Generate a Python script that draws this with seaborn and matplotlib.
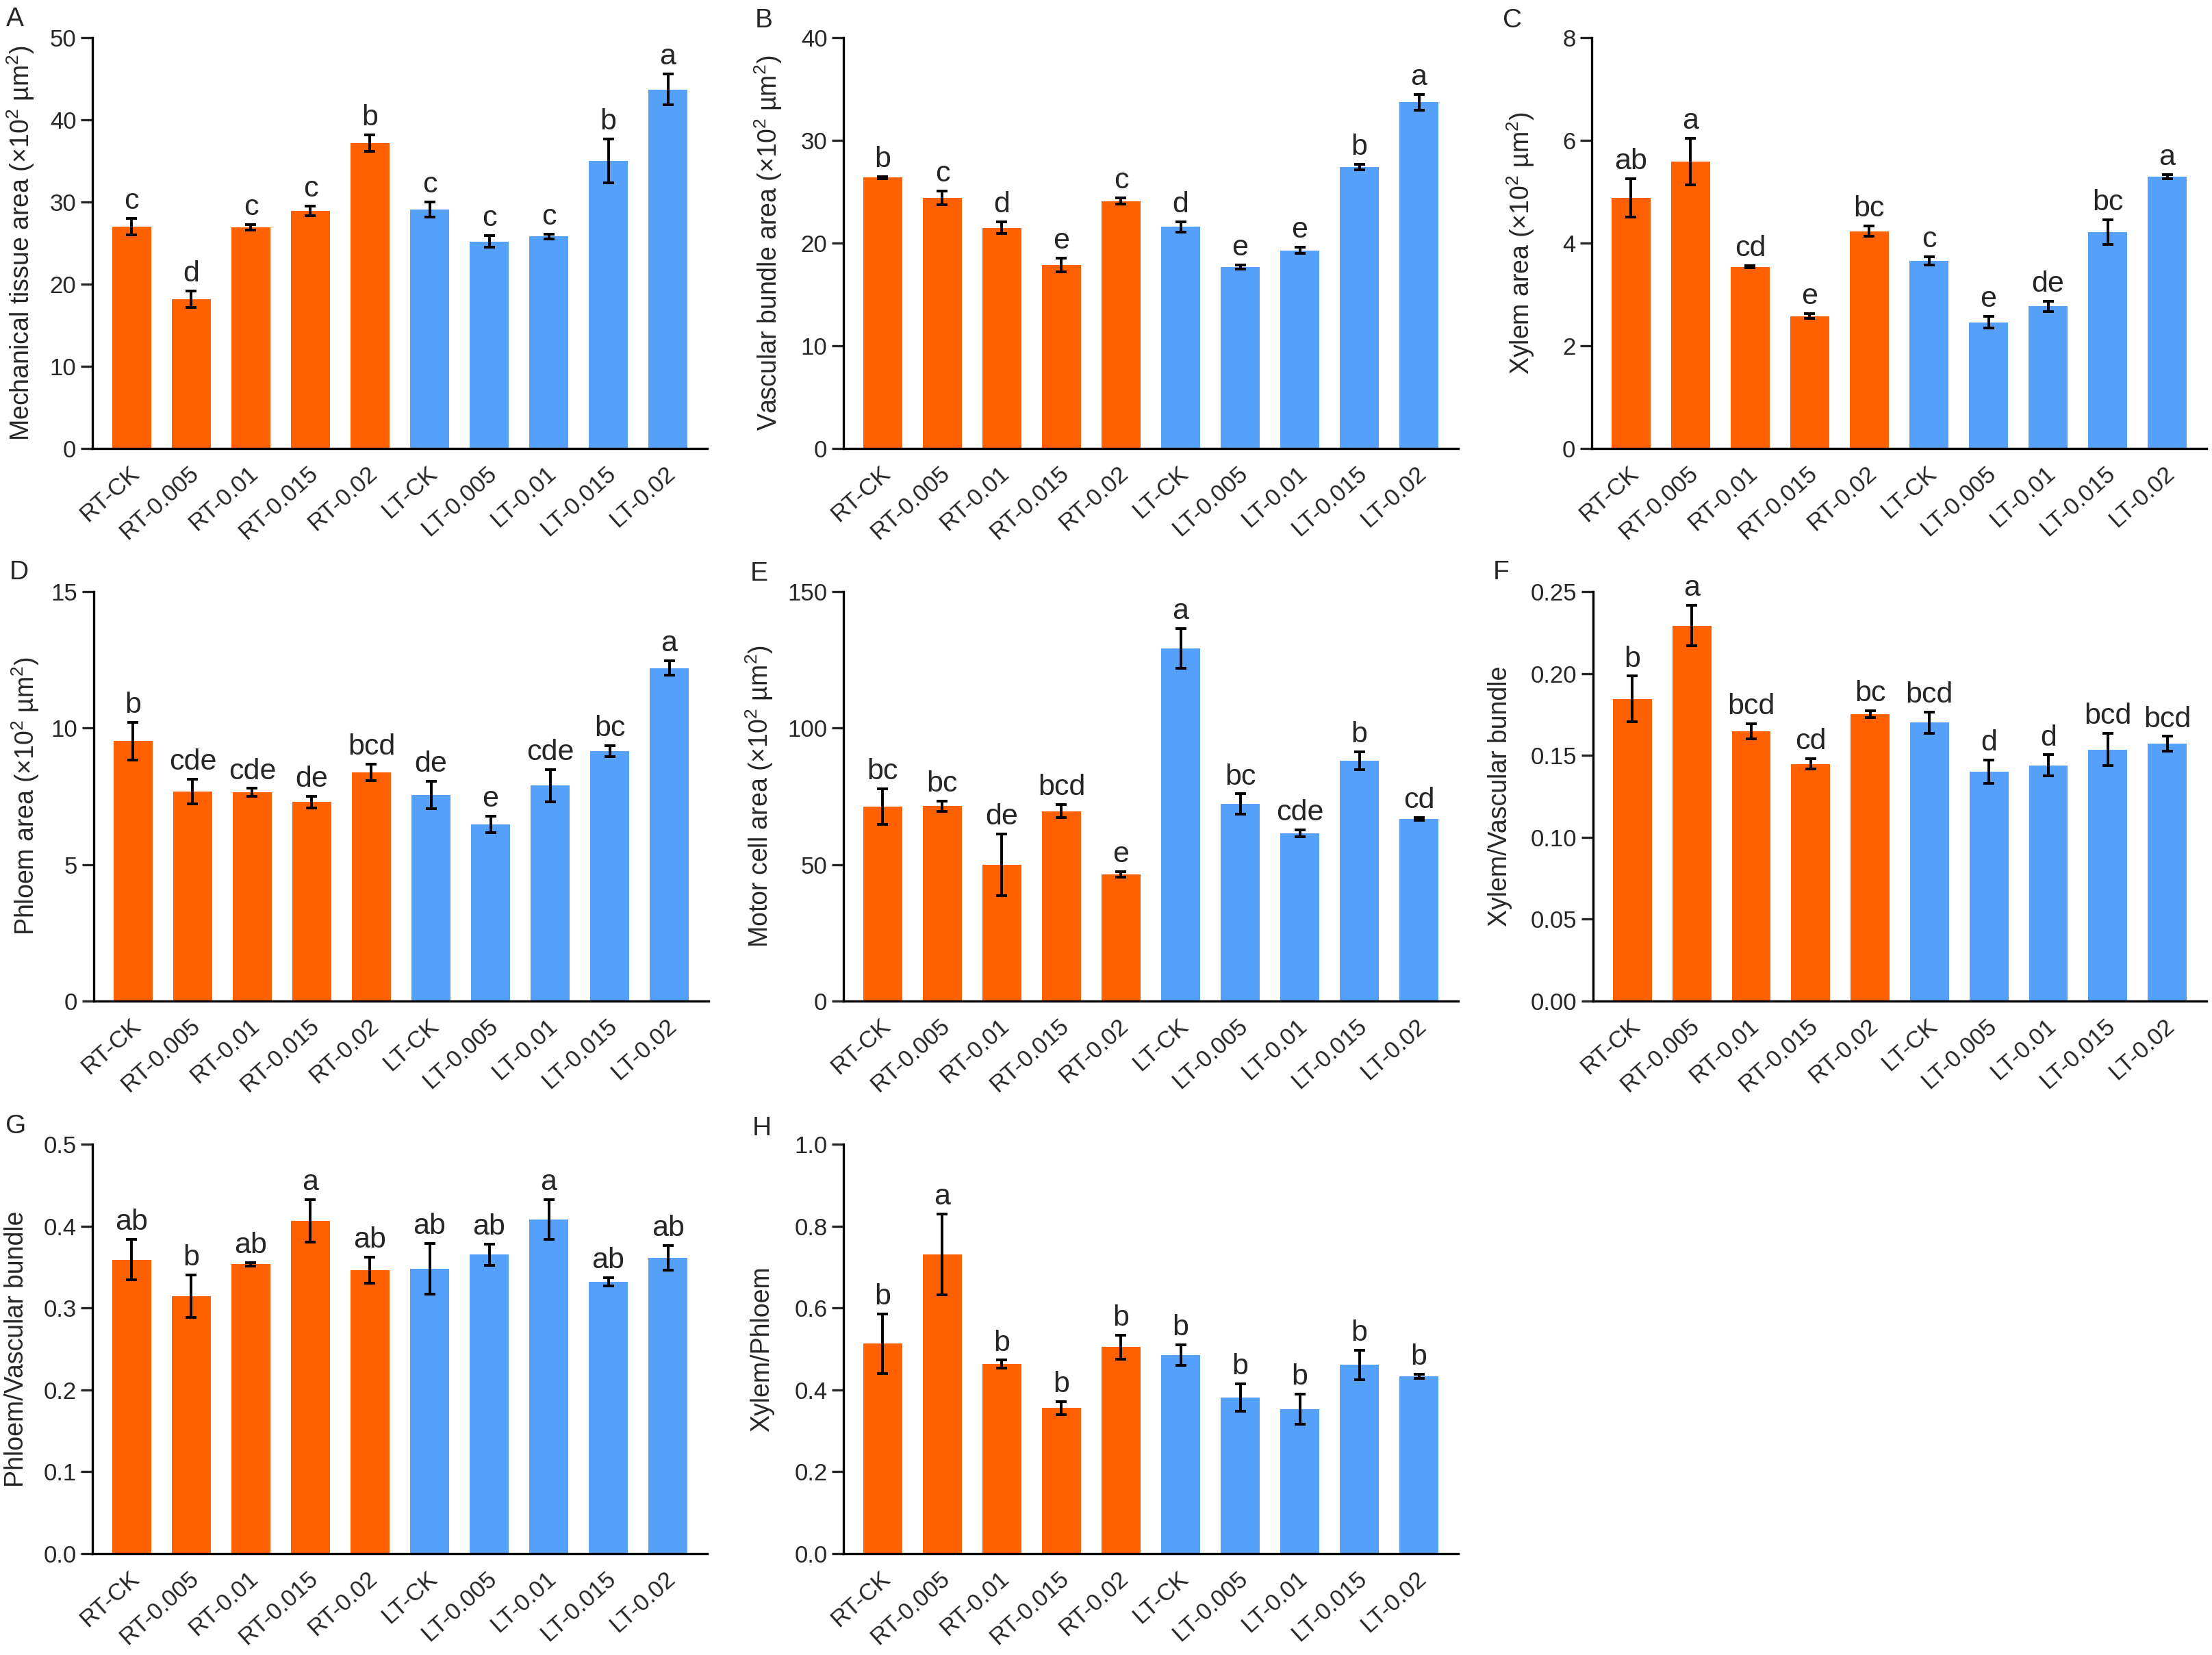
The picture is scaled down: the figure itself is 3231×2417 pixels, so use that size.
import numpy as np
import pandas as pd
import matplotlib
matplotlib.use("Agg")
import matplotlib.pyplot as plt
import matplotlib.transforms as mtransforms
from matplotlib.ticker import FormatStrFormatter
import seaborn as sns

sns.set_style("white")
plt.rcParams['font.family'] = ['Liberation Sans', 'DejaVu Sans']

# treatments
groups = ["RT-CK", "RT-0.005", "RT-0.01", "RT-0.015", "RT-0.02",
          "LT-CK", "LT-0.005", "LT-0.01", "LT-0.015", "LT-0.02"]
temp = ["RT"] * 5 + ["LT"] * 5

# A mechanical tissue area
mech_mean = [27.0, 18.2, 26.9, 28.9, 37.2, 29.1, 25.2, 25.8, 35.0, 43.7]
mech_err = [1.0, 1.0, 0.35, 0.6, 1.0, 0.9, 0.7, 0.3, 2.65, 1.9]
mech_sig = ["c", "d", "c", "c", "b", "c", "c", "c", "b", "a"]

# B vascular bundle area
vb_mean = [26.4, 24.4, 21.5, 17.85, 24.1, 21.6, 17.7, 19.3, 27.4, 33.7]
vb_err = [0.1, 0.67, 0.58, 0.68, 0.3, 0.5, 0.2, 0.32, 0.27, 0.77]
vb_sig = ["b", "c", "d", "e", "c", "d", "e", "e", "b", "a"]

# C xylem area
xy_mean = [4.88, 5.59, 3.54, 2.58, 4.23, 3.66, 2.46, 2.77, 4.22, 5.29]
xy_err = [0.37, 0.45, 0.02, 0.05, 0.1, 0.08, 0.11, 0.1, 0.24, 0.04]
xy_sig = ["ab", "a", "cd", "e", "bc", "c", "e", "de", "bc", "a"]

# D phloem area
ph_mean = [9.53, 7.68, 7.65, 7.29, 8.38, 7.55, 6.47, 7.9, 9.15, 12.2]
ph_err = [0.69, 0.45, 0.14, 0.22, 0.3, 0.51, 0.31, 0.59, 0.2, 0.26]
ph_sig = ["b", "cde", "cde", "de", "bcd", "de", "e", "cde", "bc", "a"]

# E motor cell area
mc_mean = [71.2, 71.4, 49.9, 69.6, 46.4, 129.1, 72.2, 61.5, 88.1, 66.7]
mc_err = [6.5, 1.9, 11.3, 2.5, 1.0, 7.3, 3.7, 1.3, 3.3, 0.6]
mc_sig = ["bc", "bc", "de", "bcd", "e", "a", "bc", "cde", "b", "cd"]

# F xylem / vascular bundle
xv_mean = [0.1845, 0.2293, 0.1647, 0.1448, 0.1751, 0.170, 0.1401, 0.144, 0.1536, 0.1572]
xv_err = [0.0139, 0.0125, 0.0047, 0.0032, 0.0022, 0.0066, 0.007, 0.0063, 0.0097, 0.0044]
xv_sig = ["b", "a", "bcd", "cd", "bc", "bcd", "d", "d", "bcd", "bcd"]

# G phloem / vascular bundle
pv_mean = [0.359, 0.3146, 0.3534, 0.4062, 0.346, 0.348, 0.3653, 0.408, 0.332, 0.361]
pv_err = [0.0245, 0.026, 0.0023, 0.026, 0.016, 0.031, 0.013, 0.024, 0.0047, 0.015]
pv_sig = ["ab", "b", "ab", "a", "ab", "ab", "ab", "a", "ab", "ab"]

# H xylem / phloem
xp_mean = [0.5128, 0.7304, 0.4625, 0.3558, 0.5043, 0.4855, 0.3814, 0.3532, 0.4608, 0.4334]
xp_err = [0.073, 0.099, 0.01, 0.016, 0.029, 0.025, 0.033, 0.037, 0.036, 0.0055]
xp_sig = ["b", "a", "b", "b", "b", "b", "b", "b", "b", "b"]

palette = {"RT": "#FF6000", "LT": "#55A0F8"}
unit = r" (×10$^\mathregular{2}$ µm$^\mathregular{2}$)"

W, H = 3231, 2417
fig = plt.figure(figsize=(W / 100, H / 100), dpi=100)

def box(l, t, r, b):
    return [l / W, 1 - b / H, (r - l) / W, (b - t) / H]

panels = [
    # letter, mean, err, sig, ylabel, ymax, step, fmt, axes box (px), letter pos, label x
    ("A", mech_mean, mech_err, mech_sig, "Mechanical tissue area" + unit, 50, 10, "%d",
     (135, 55, 1033, 655), (9, 10), 30),
    ("B", vb_mean, vb_err, vb_sig, "Vascular bundle area" + unit, 40, 10, "%d",
     (1232, 55, 2130, 655), (1103, 12), 1122),
    ("C", xy_mean, xy_err, xy_sig, "Xylem area" + unit, 8, 2, "%d",
     (2325, 55, 3223, 655), (2195, 12), 2221),
    ("D", ph_mean, ph_err, ph_sig, "Phloem area" + unit, 15, 5, "%d",
     (137, 864, 1035, 1462), (14, 818), 37),
    ("E", mc_mean, mc_err, mc_sig, "Motor cell area" + unit, 150, 50, "%d",
     (1232, 864, 2130, 1462), (1096, 820), 1109),
    ("F", xv_mean, xv_err, xv_sig, "Xylem/Vascular bundle", 0.25, 0.05, "%.2f",
     (2327, 864, 3223, 1462), (2181, 818), 2191),
    ("G", pv_mean, pv_err, pv_sig, "Phloem/Vascular bundle", 0.5, 0.1, "%.1f",
     (135, 1671, 1033, 2269), (8, 1627), 24),
    ("H", xp_mean, xp_err, xp_sig, "Xylem/Phloem", 1.0, 0.2, "%.1f",
     (1232, 1671, 2130, 2269), (1099, 1630), 1113),
]

# small shift of the rotated x labels to the right
shift = mtransforms.ScaledTranslation(6 / 100, 0, fig.dpi_scale_trans)

for letter, mean, err, sig, ylab, ymax, step, fmt, bx, lpos, labx in panels:
    ax = fig.add_axes(box(*bx))
    df = pd.DataFrame({"group": groups, "value": mean, "temp": temp})
    sns.barplot(data=df, x="group", y="value", hue="temp", palette=palette,
                order=groups, dodge=False, width=0.655, legend=False,
                saturation=1, linewidth=0, ax=ax)
    ax.errorbar(np.arange(10), mean, yerr=err, fmt="none", ecolor="black",
                elinewidth=2.8, capsize=5.5, capthick=2.8)
    # significance letters
    for i in range(10):
        ax.annotate(sig[i], xy=(i, mean[i] + err[i]), xytext=(0, 10),
                    textcoords="offset points", ha="center", va="baseline",
                    fontsize=31)
    ax.set_xlim(-0.66, 9.66)
    ax.set_ylim(0, ymax)
    ax.set_yticks(np.arange(0, ymax + step / 2, step))
    ax.yaxis.set_major_formatter(FormatStrFormatter(fmt))
    sns.despine(ax=ax)
    for s in ["left", "bottom"]:
        ax.spines[s].set_linewidth(2.4)
        ax.spines[s].set_color("black")
    ax.tick_params(axis="y", length=12, width=2.4, labelsize=25, pad=5, left=True)
    ax.tick_params(axis="x", length=0, labelsize=25, pad=23)
    for t in ax.get_xticklabels():
        t.set_rotation(42)
        t.set_ha("right")
        t.set_va("center")
        t.set_rotation_mode("anchor")
        t.set_transform(t.get_transform() + shift)
    ax.set_xlabel("")
    ax.set_ylabel(ylab, fontsize=27, va="center")
    ax.yaxis.set_label_coords((labx - bx[0]) / (bx[2] - bx[0]), 0.5)
    fig.text(lpos[0] / W, 1 - lpos[1] / H, letter, fontsize=28, ha="left", va="top")

fig.savefig("out.png", dpi=100)
